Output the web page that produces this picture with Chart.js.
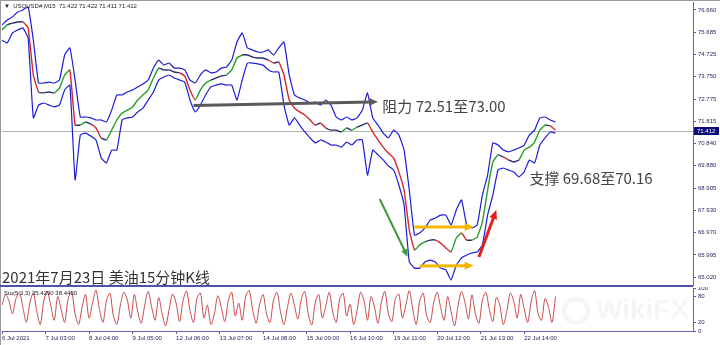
<!DOCTYPE html>
<html>
<head>
<meta charset="utf-8">
<script src="https://cdn.jsdelivr.net/npm/chart.js@4.4.1/dist/chart.umd.min.js"></script>
<style>
  html, body { margin: 0; padding: 0; background: #fff; }
  #wrap { position: relative; width: 720px; height: 345px; overflow: hidden; }
  #main { position: absolute; left: 0; top: 0; }
  #osc { position: absolute; left: 0; top: 287px; }
</style>
</head>
<body>
<div id="wrap">
  <canvas id="main" width="720" height="287"></canvas>
  <canvas id="osc" width="720" height="58"></canvas>
</div>
<script>
// price axis ticks as MT4 prints them
const priceTicks = [76.660, 75.685, 74.725, 73.750, 72.775, 71.815, 70.840, 69.880, 68.905, 67.930, 66.970, 65.995, 65.020];
const timeTickHours = [0, 25, 50, 75, 100, 125, 150, 175, 200, 225, 250, 275, 300];
const timeTickLabels = ['6 Jul 2021', '7 Jul 03:00', '8 Jul 04:00', '9 Jul 05:00', '12 Jul 06:00', '13 Jul 07:00',
  '14 Jul 08:00', '15 Jul 09:00', '16 Jul 10:00', '19 Jul 11:00', '20 Jul 12:00', '21 Jul 13:00', '22 Jul 14:00'];
const lastPrice = 71.412;

// one reading every 3 trading hours
const midLine = [
  75.79, 76.01, 76.09, 76.14, 76.14, 75.88, 73.83, 73.09, 73.05, 73.09,
  73.05, 73.26, 73.83, 74.05, 71.65, 71.65, 71.78, 71.70, 71.52, 71.09,
  71.00, 71.43, 71.87, 72.17, 72.30, 72.44, 72.74, 72.96, 73.18, 73.70,
  74.13, 74.05, 74.05, 73.96, 73.92, 73.79, 73.18, 72.74, 73.18, 73.48,
  73.61, 73.70, 73.79, 73.83, 74.05, 74.57, 74.70, 74.70, 74.61, 74.57,
  74.57, 74.48, 74.35, 74.40, 73.83, 72.74, 72.39, 72.22, 72.09, 71.87,
  71.65, 71.74, 71.52, 71.43, 71.43, 71.35, 71.52, 71.43, 71.56, 71.65,
  71.74, 71.35, 71.00, 70.69, 70.43, 70.22, 69.61, 68.82, 67.08, 66.21,
  66.43, 66.56, 66.64, 66.64, 66.51, 66.30, 66.12, 66.73, 66.95, 66.64,
  66.64, 66.77, 67.43, 68.82, 70.04, 70.35, 70.26, 70.13, 70.04, 70.13,
  70.56, 70.69, 70.91, 71.43, 71.65, 71.61, 71.42
];
const upperBand = [
  76.01, 76.22, 76.36, 76.57, 76.66, 76.79, 75.35, 73.48, 73.48, 73.52,
  73.48, 73.61, 74.70, 75.01, 73.61, 72.00, 72.00, 71.96, 71.87, 71.87,
  71.78, 72.30, 72.96, 72.96, 73.09, 73.18, 73.31, 73.44, 73.61, 74.13,
  74.48, 74.26, 74.35, 74.13, 74.13, 74.05, 73.61, 73.48, 73.83, 74.05,
  73.92, 73.96, 74.13, 74.18, 74.48, 75.27, 75.66, 75.01, 74.92, 74.83,
  74.83, 74.92, 74.70, 75.01, 75.27, 73.83, 72.96, 72.83, 72.74, 72.61,
  72.65, 72.52, 72.74, 72.52, 72.00, 71.87, 72.00, 71.87, 71.96, 72.30,
  73.05, 71.96, 71.65, 71.30, 71.09, 71.43, 71.22, 70.56, 68.82, 66.86,
  66.95, 67.17, 67.51, 67.60, 67.73, 67.73, 67.30, 67.95, 68.39, 67.30,
  67.17, 67.30, 68.60, 69.47, 70.87, 70.78, 70.56, 70.48, 70.56, 70.65,
  70.78, 71.22, 71.43, 71.96, 72.00, 71.87, 71.78
];
const lowerBand = [
  75.35, 75.22, 75.66, 75.79, 75.88, 75.44, 71.96, 72.52, 72.61, 72.52,
  72.44, 72.52, 73.18, 73.39, 69.26, 71.22, 71.30, 71.17, 71.00, 70.22,
  70.00, 70.56, 70.56, 71.87, 71.96, 72.00, 72.22, 72.39, 72.74, 73.09,
  73.61, 73.74, 73.83, 73.70, 73.61, 73.52, 72.74, 72.22, 72.52, 72.96,
  73.31, 73.39, 73.44, 73.39, 73.39, 72.74, 73.61, 74.35, 74.35, 74.31,
  74.26, 74.05, 73.96, 73.96, 72.52, 71.65, 71.96, 71.65, 71.35, 71.09,
  70.87, 71.00, 70.91, 70.78, 70.78, 70.69, 70.91, 70.78, 71.00, 71.00,
  69.47, 70.56, 70.35, 70.13, 69.87, 69.69, 69.04, 68.17, 65.69, 65.42,
  65.42, 65.69, 65.77, 65.69, 65.42, 65.34, 64.90, 65.55, 65.86, 65.99,
  66.08, 66.12, 66.43, 67.73, 68.60, 69.69, 69.78, 69.69, 69.61, 69.39,
  69.61, 70.13, 70.00, 70.78, 71.09, 71.35, 71.30
];

// Sto(5,3,3), one reading every 2 trading hours
const stoch = [
  60, 85, 70, 40, 75, 90, 55, 20, 65, 88, 45, 15, 70, 92, 60, 25, 80, 50, 20, 75,
  90, 40, 15, 55, 85, 30, 65, 95, 50, 20, 70, 88, 35, 15, 60, 90, 72, 30, 85, 45,
  18, 60, 92, 55, 25, 78, 40, 12, 50, 86, 65, 22, 70, 93, 48, 20, 75, 88, 30, 60,
  15, 40, 82, 55, 22, 70, 90, 35, 65, 25, 80, 94, 50, 18, 62, 85, 40, 20, 72, 90,
  45, 15, 55, 88, 60, 28, 75, 92, 38, 14, 66, 85, 30, 58, 90, 45, 20, 74, 88, 35,
  62, 15, 48, 90, 70, 25, 80, 55, 18, 68, 92, 40, 22, 75, 86, 30, 60, 94, 50, 15,
  70, 88, 35, 20, 65, 90, 55, 25, 80, 45, 12, 58, 92, 66, 28, 84, 40, 18, 72, 90,
  50, 22, 78, 60, 15, 45, 88, 70, 30, 85, 52, 20, 68, 94, 40, 25, 76, 55, 20, 80
];

// hand drawn marks, in (hour, price)
const arrows = [
  { from: [110, 72.50], to: [216, 72.66], color: '#5a5a5a', width: 3 },
  { from: [217, 68.43], to: [233, 65.92], color: '#3c9a3c', width: 2 },
  { from: [237, 67.21], to: [271, 67.21], color: '#f2b705', width: 3 },
  { from: [240, 65.51], to: [271, 65.53], color: '#f2b705', width: 3 },
  { from: [274, 65.90], to: [284, 67.95], color: '#e32020', width: 3 }
];
const notes = [
  { text: '阻力 72.51至73.00', at: [218.5, 72.45] },
  { text: '支撑 69.68至70.16', at: [303, 69.34] }
];

const X_MAX = 397;
const cjk = '"Noto Sans CJK SC", "Noto Sans", sans-serif';
const small = '"Liberation Sans", Arial, sans-serif';

function pts(hStep, arr) {
  return arr.map((v, i) => ({ x: i * hStep, y: v }));
}

function noPad(s) {
  s.paddingTop = 0; s.paddingBottom = 0; s.paddingLeft = 0; s.paddingRight = 0;
}

function drawArrow(ctx, x1, y1, x2, y2, color, w) {
  const ang = Math.atan2(y2 - y1, x2 - x1);
  const head = 5 + w * 1.6;
  ctx.strokeStyle = color;
  ctx.fillStyle = color;
  ctx.lineWidth = w;
  ctx.beginPath();
  ctx.moveTo(x1, y1);
  ctx.lineTo(x2 - Math.cos(ang) * head * 0.7, y2 - Math.sin(ang) * head * 0.7);
  ctx.stroke();
  ctx.beginPath();
  ctx.moveTo(x2, y2);
  ctx.lineTo(x2 - head * Math.cos(ang - 0.42), y2 - head * Math.sin(ang - 0.42));
  ctx.lineTo(x2 - head * Math.cos(ang + 0.42), y2 - head * Math.sin(ang + 0.42));
  ctx.closePath();
  ctx.fill();
}

const mainOverlay = {
  id: 'mainOverlay',
  beforeDatasetsDraw(chart) {
    const { ctx, chartArea: a, scales: { y } } = chart;
    const py = Math.round(y.getPixelForValue(lastPrice)) + 0.5;
    ctx.save();
    ctx.strokeStyle = '#b4b4b4';
    ctx.lineWidth = 1;
    ctx.beginPath();
    ctx.moveTo(a.left, py);
    ctx.lineTo(a.right, py);
    ctx.stroke();
    ctx.restore();
  },
  afterDraw(chart) {
    const { ctx, chartArea: a, scales: { x, y } } = chart;
    ctx.save();

    arrows.forEach(ar => {
      drawArrow(ctx, x.getPixelForValue(ar.from[0]), y.getPixelForValue(ar.from[1]),
        x.getPixelForValue(ar.to[0]), y.getPixelForValue(ar.to[1]), ar.color, ar.width);
    });

    ctx.fillStyle = '#444';
    ctx.font = '15px ' + cjk;
    ctx.textBaseline = 'middle';
    ctx.textAlign = 'left';
    notes.forEach(n => {
      ctx.fillText(n.text, x.getPixelForValue(n.at[0]), y.getPixelForValue(n.at[1]));
    });

    // title in lower left
    ctx.fillStyle = '#333';
    ctx.font = '15px ' + cjk;
    ctx.fillText('2021年7月23日 美油15分钟K线', 2, 277);

    // symbol header
    ctx.font = '6px ' + small;
    ctx.fillStyle = '#222';
    ctx.fillText('\u25BC  USOUSD#,M15  71.422 71.422 71.411 71.412', 4, 6);

    // current price tag
    const py = Math.round(y.getPixelForValue(lastPrice));
    ctx.fillStyle = '#0a0a78';
    ctx.fillRect(a.right + 1, py - 4, 25, 8);
    ctx.fillStyle = '#fff';
    ctx.font = '6px ' + small;
    ctx.fillText(lastPrice.toFixed(3), a.right + 4, py);

    // frame
    ctx.strokeStyle = '#9a9a9a';
    ctx.lineWidth = 1;
    ctx.beginPath();
    ctx.moveTo(0.5, 0); ctx.lineTo(0.5, 287);
    ctx.moveTo(0, 0.5); ctx.lineTo(720, 0.5);
    ctx.stroke();
    ctx.strokeStyle = '#5050b0';
    ctx.lineWidth = 2;
    ctx.beginPath();
    ctx.moveTo(0, 286); ctx.lineTo(a.right, 286);
    ctx.stroke();
    ctx.restore();
  }
};

new Chart(document.getElementById('main'), {
  type: 'line',
  data: {
    datasets: [
      { data: pts(3, upperBand), borderColor: '#1c1cd6', borderWidth: 1.2, pointRadius: 0, tension: 0.12 },
      { data: pts(3, lowerBand), borderColor: '#1c1cd6', borderWidth: 1.2, pointRadius: 0, tension: 0.12 },
      {
        data: pts(3, midLine), borderColor: '#2a2a70', borderWidth: 1.4, pointRadius: 0, tension: 0.12,
        segment: {
          borderColor: c => c.p1.parsed.y > c.p0.parsed.y + 0.1 ? '#25a025'
            : (c.p1.parsed.y < c.p0.parsed.y - 0.1 ? '#d22a2a' : '#2a2a70')
        }
      }
    ]
  },
  options: {
    responsive: false,
    animation: false,
    devicePixelRatio: 1,
    layout: { padding: { left: 2, top: 2, bottom: 2, right: 0 } },
    plugins: { legend: { display: false }, tooltip: { enabled: false } },
    scales: {
      x: { type: 'linear', min: 0, max: X_MAX, display: false },
      y: {
        position: 'right',
        min: 64.685,
        max: 77.008,
        afterBuildTicks: s => { s.ticks = priceTicks.map(v => ({ value: v })); },
        afterFit: s => { s.width = 27; noPad(s); },
        grid: { drawOnChartArea: false, tickLength: 3, color: '#5a5aa8' },
        border: { color: '#6464b4' },
        ticks: {
          font: { size: 6, family: small },
          color: '#26265e',
          padding: 2,
          callback: v => v.toFixed(3)
        }
      }
    }
  },
  plugins: [mainOverlay]
});

const oscOverlay = {
  id: 'oscOverlay',
  beforeDatasetsDraw(chart) {
    const { ctx } = chart;
    ctx.save();
    ctx.fillStyle = 'rgba(210,210,210,0.22)';
    ctx.font = 'bold 28px ' + small;
    ctx.textBaseline = 'middle';
    ctx.fillText('WikiFX', 596, 24);
    ctx.strokeStyle = 'rgba(210,210,210,0.22)';
    ctx.lineWidth = 4;
    ctx.beginPath();
    ctx.arc(576, 24, 12, 0, Math.PI * 2);
    ctx.stroke();
    ctx.restore();
  },
  afterDraw(chart) {
    const { ctx } = chart;
    ctx.save();
    ctx.font = '6px ' + small;
    ctx.fillStyle = '#222';
    ctx.textBaseline = 'middle';
    ctx.fillText('Sto(5,3,3) 35.4290 38.4450', 4, 6);
    ctx.strokeStyle = '#9a9a9a';
    ctx.lineWidth = 1;
    ctx.beginPath();
    ctx.moveTo(0.5, 0); ctx.lineTo(0.5, 58);
    ctx.stroke();
    ctx.restore();
  }
};

new Chart(document.getElementById('osc'), {
  type: 'line',
  data: {
    datasets: [
      { data: pts(2, stoch), borderColor: '#c64a4a', borderWidth: 1, pointRadius: 0, tension: 0.3 }
    ]
  },
  options: {
    responsive: false,
    animation: false,
    devicePixelRatio: 1,
    layout: { padding: { left: 2, top: 1, bottom: 0, right: 0 } },
    plugins: { legend: { display: false }, tooltip: { enabled: false } },
    scales: {
      x: {
        type: 'linear',
        min: 0,
        max: X_MAX,
        afterBuildTicks: s => { s.ticks = timeTickHours.map(v => ({ value: v })); },
        afterFit: s => { s.height = 14; noPad(s); },
        grid: { drawOnChartArea: false, tickLength: 3, color: '#5a5aa8' },
        border: { color: '#6464b4' },
        ticks: {
          align: 'start',
          autoSkip: false,
          maxRotation: 0,
          padding: 1,
          font: { size: 6, family: small },
          color: '#26265e',
          callback: (v, i) => timeTickLabels[i]
        }
      },
      y: {
        position: 'right',
        min: 0,
        max: 100,
        afterBuildTicks: s => { s.ticks = [0, 20, 80, 100].map(v => ({ value: v })); },
        afterFit: s => { s.width = 27; noPad(s); },
        grid: { drawOnChartArea: false, tickLength: 3, color: '#5a5aa8' },
        border: { color: '#6464b4' },
        ticks: { font: { size: 6, family: small }, color: '#26265e', padding: 2 }
      }
    }
  },
  plugins: [oscOverlay]
});
</script>
</body>
</html>
